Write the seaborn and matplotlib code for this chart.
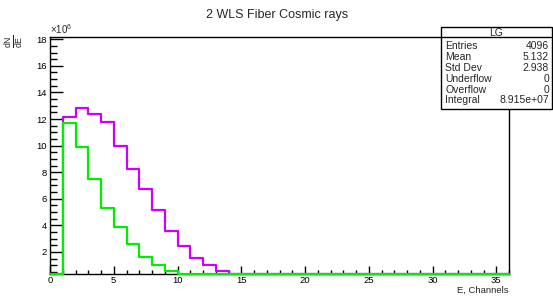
import numpy as np
import pandas as pd
import matplotlib
matplotlib.use('Agg')
import matplotlib.pyplot as plt
import seaborn as sns
from matplotlib.patches import Rectangle

# Данные гистограмм (значения в единицах 1e6), бины шириной 1 канал от 0 до 36
bin_centers = np.arange(36) + 0.5
lg_magenta = [0.0, 12.12, 12.80, 12.37, 11.79, 9.98, 8.25, 6.72, 5.12, 3.56,
              2.45, 1.55, 0.98, 0.55, 0.22, 0.10, 0.04, 0.02] + [0.0] * 18
lg_green = [0.0, 11.72, 9.91, 7.50, 5.27, 3.88, 2.58, 1.65, 1.02, 0.60,
            0.30, 0.12, 0.05, 0.02] + [0.0] * 22

stats_labels = ['Entries', 'Mean', 'Std Dev', 'Underflow', 'Overflow', 'Integral']
stats_values = ['4096', '5.132', '2.938', '0', '0', '8.915e+07']

y_min, y_max = 0.34, 18.17

sns.set_theme(style='white')
plt.rcParams['font.family'] = ['Liberation Sans', 'DejaVu Sans']
plt.rcParams['mathtext.fontset'] = 'custom'
plt.rcParams['mathtext.rm'] = 'Liberation Sans'

W, H = 553, 296
fig = plt.figure(figsize=(W / 100, H / 100), dpi=100)
ax = fig.add_axes([50 / W, 1 - 274 / H, 459 / W, 237 / H])

# значения ниже минимума оси рисуются по нижней границе, как в ROOT
for vals, col in [(lg_magenta, '#cc00ff'), (lg_green, '#00ee00')]:
    df = pd.DataFrame({'E': bin_centers, 'w': np.clip(vals, y_min, None)})
    sns.histplot(data=df, x='E', weights='w', binwidth=1, binrange=(0, 36),
                 element='step', fill=False, color=col, linewidth=1.6, ax=ax)
for art in list(ax.lines) + list(ax.patches):
    art.set_clip_on(False)
    art.set_zorder(3)

ax.set_xlim(0, 36)
ax.set_ylim(y_min, y_max)
ax.set_xlabel('')
ax.set_ylabel('')
ax.set_xticks(np.arange(0, 36, 5))
ax.set_xticks(np.arange(0, 37, 1), minor=True)
ax.set_yticks(np.arange(2, 19, 2))
ax.set_yticks(np.arange(0.5, 18.1, 0.5), minor=True)
ax.tick_params(axis='both', which='both', direction='in', labelsize=6.8, colors='black',
               bottom=True, left=True, top=False, right=False)
ax.tick_params(axis='y', which='major', length=9, width=1)
ax.tick_params(axis='y', which='minor', length=5, width=1)
ax.tick_params(axis='x', which='major', length=6, width=1)
ax.tick_params(axis='x', which='minor', length=3, width=1)
ax.tick_params(axis='x', which='major', pad=1.5)
ax.tick_params(axis='y', which='major', pad=2)
for s in ax.spines.values():
    s.set_color('black')
    s.set_linewidth(1)

fig.text(277 / W, 1 - 15 / H, '2 WLS Fiber Cosmic rays', ha='center', va='center', fontsize=9)
fig.text(509 / W, 1 - 290 / H, 'E, Channels', ha='right', va='center', fontsize=6.8)
fig.text(50 / W, 1 - 36 / H, r'$\times10^{6}$', ha='left', va='bottom', fontsize=7)
fig.text(14 / W, 1 - 41 / H, r'$\frac{\mathrm{dN}}{\mathrm{dE}}$', ha='center', va='center',
         rotation=90, fontsize=9)

# Окно статистики
bx0, bx1, by0, by1 = 441, 552, 27, 109
fig.patches.append(Rectangle((bx0 / W, 1 - by1 / H), (bx1 - bx0) / W, (by1 - by0) / H,
                             transform=fig.transFigure, facecolor='white',
                             edgecolor='black', linewidth=1))
fig.lines.append(plt.Line2D([bx0 / W, bx1 / W], [1 - 37 / H, 1 - 37 / H],
                            transform=fig.transFigure, color='black', linewidth=1))
fig.text((bx0 + bx1) / 2 / W, 1 - 32.5 / H, 'LG', ha='center', va='center', fontsize=7.5)
row_y = [46, 57, 68, 79, 90, 100.5]
for lab, val, ry in zip(stats_labels, stats_values, row_y):
    yy = 1 - ry / H
    fig.text((bx0 + 4) / W, yy, lab, ha='left', va='center', fontsize=7.5)
    fig.text((bx1 - 3) / W, yy, val, ha='right', va='center', fontsize=7.5)

fig.savefig('out.png', dpi=100)
